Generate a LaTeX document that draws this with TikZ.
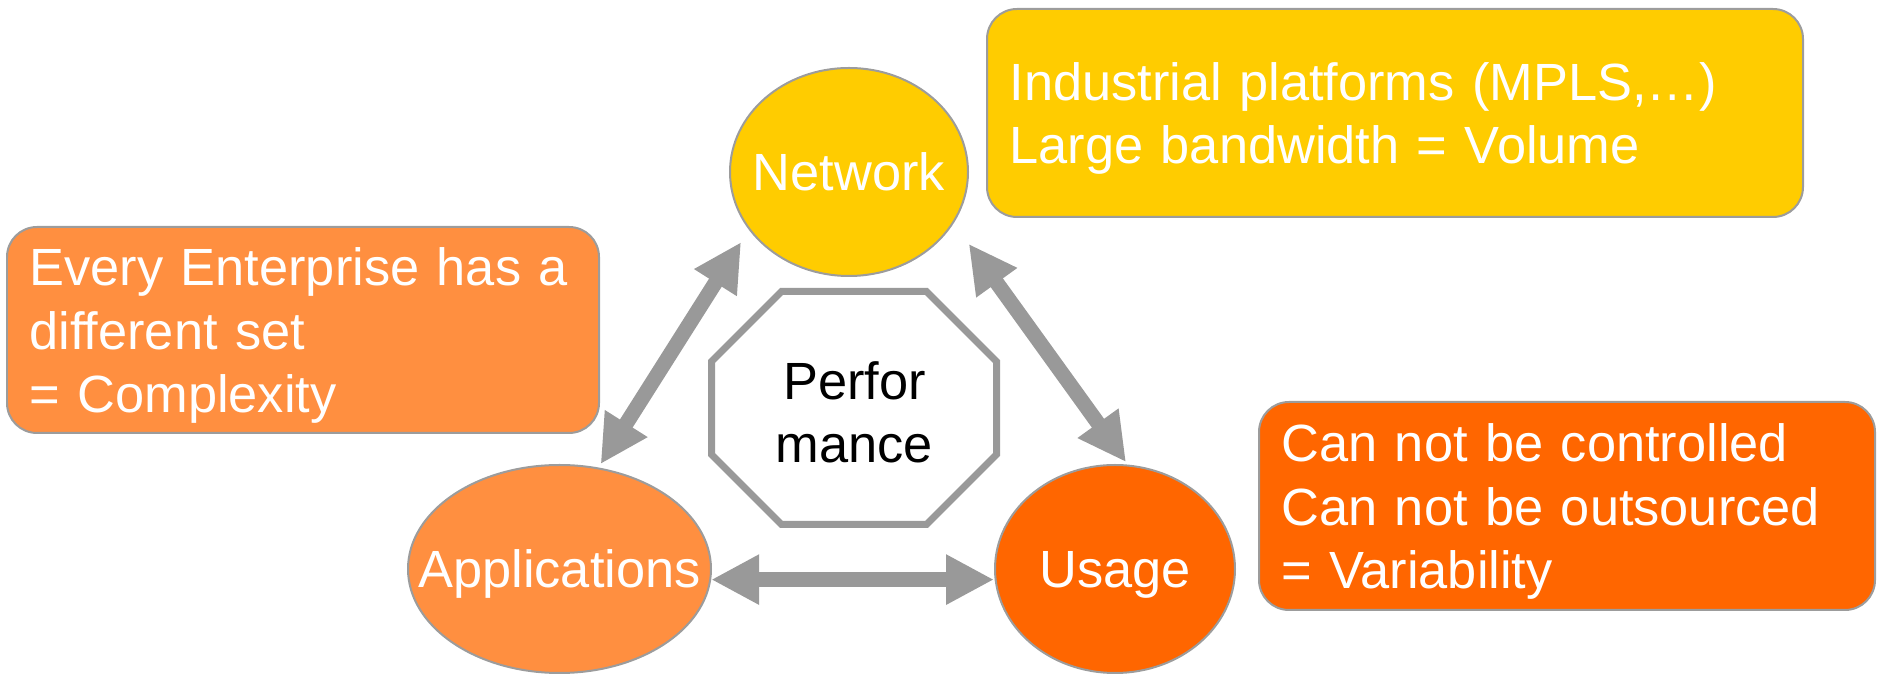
\documentclass[tikz,border=0pt]{standalone}
\usepackage{fontspec}
\setmainfont{Liberation Sans}
\usetikzlibrary{arrows.meta,shapes.geometric}

\definecolor{netyellow}{HTML}{FFCC00}
\definecolor{apporange}{HTML}{FF8F40}
\definecolor{useorange}{HTML}{FF6600}
\definecolor{edgegray}{HTML}{9C9C9C}
\definecolor{arrowgray}{HTML}{999999}

\tikzset{
	bigfont/.style={font=\fontsize{29.8}{36}\selectfont},
	blob/.style={ellipse, draw=edgegray, line width=0.04cm, inner sep=0pt, text depth=0pt, text=white, bigfont, minimum height=4.16cm},
	note/.style={rectangle, rounded corners=0.6cm, draw=edgegray, line width=0.04cm, inner xsep=0.45cm, inner ysep=0pt, text=white, bigfont, align=left,
		execute at end node={\par\vspace{-0.22cm}}},
	bigarrow/.style={draw=arrowgray, line width=0.3cm, {Triangle[length=0.96cm,width=0.94cm]}-{Triangle[length=0.96cm,width=0.94cm]}},
}

\begin{document}
\begin{tikzpicture}
	\useasboundingbox (0,0) rectangle (37.54,13.48);

	\coordinate (pn) at (16.98,10.04);
	\coordinate (pa) at (11.19,2.10);
	\coordinate (pu) at (22.30,2.10);

	\node[blob, fill=netyellow, minimum width=4.76cm] (net) at (pn) {\makebox[0pt]{Network}};
	\node[blob, fill=apporange, minimum width=6.06cm] (app) at (pa) {\makebox[0pt]{Applications}};
	\node[blob, fill=useorange, minimum width=4.80cm] (use) at (pu) {\makebox[0pt]{Usage}};

	% the octagon in the middle
	\draw[arrowgray, line width=0.14cm, fill=white] (15.63,7.65) -- (18.53,7.65) -- (19.93,6.25) -- (19.93,4.39)
		-- (18.53,2.99) -- (15.63,2.99) -- (14.23,4.39) -- (14.23,6.25) -- cycle;
	\node[bigfont, align=center, inner sep=0pt] (perf) at (17.09,5.24) {Perfor\\mance};

	\draw[bigarrow, shorten <=0.29cm, shorten >=0.08cm] (net.210.9) -- (app.69.1);
	\draw[bigarrow, shorten <=0.51cm, shorten >=0.06cm] (net.334.2) -- (use.83.6);
	\draw[bigarrow] (app.356.6) -- (app.356.6 -| use.west);

	\node[note, fill=apporange, text width=10.94cm, minimum height=4.12cm] (cplx) at (6.06,6.88)
		{Every Enterprise has a\\different set\\= Complexity};
	\node[note, fill=netyellow, text width=15.42cm, minimum height=4.16cm] (vol) at (27.90,11.22)
		{Industrial platforms (MPLS,…)\\Large bandwidth = Volume};
	\node[note, fill=useorange, text width=11.42cm, minimum height=4.16cm] (var) at (31.34,3.36)
		{Can not be controlled\\Can not be outsourced\\= Variability};

\end{tikzpicture}
\end{document}
